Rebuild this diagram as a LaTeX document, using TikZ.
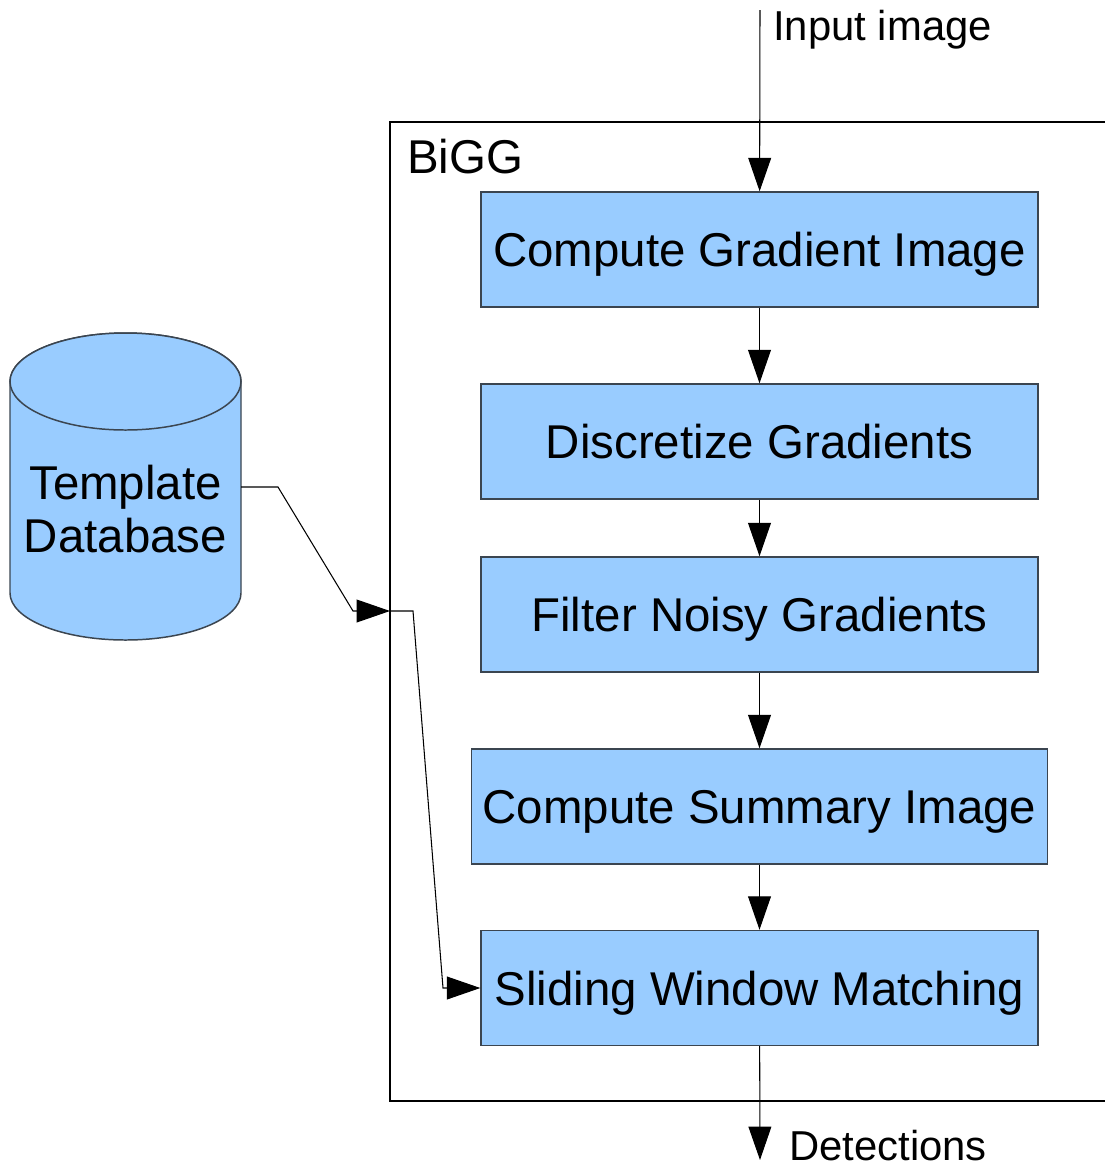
\documentclass[tikz,border=0pt]{standalone}
\usepackage{fontspec}
\setmainfont{Liberation Sans}
\usetikzlibrary{arrows.meta}

\definecolor{stagefill}{HTML}{99CCFF}
\definecolor{stageline}{HTML}{3B4550}

\tikzset{
  big/.style={font=\fontsize{27}{30}\selectfont},
  small/.style={font=\fontsize{23.8}{28}\selectfont},
  stage/.style={big, draw=stageline, line width=0.85pt, fill=stagefill,
    minimum width=11.14cm, minimum height=2.3cm, inner sep=0pt,
    text height=19.4pt, text depth=0pt},
  flow/.style={-{Triangle[length=19pt,width=13pt]}, line width=0.6pt},
}

\begin{document}
\begin{tikzpicture}[x=0.02cm,y=-0.02cm]
\useasboundingbox (0,0) rectangle (1105,1167);

% BiGG frame, open on the right
\draw[line width=0.6pt] (1105,122) -- (390,122) -- (390,1101) -- (1105,1101);
\node[big, anchor=base west, inner sep=0pt] (bigg) at (407,173) {BiGG};

% pipeline stages
\node[stage] (grad) at (759.5,249.5) {Compute Gradient Image};
\node[stage] (disc) at (759.5,441.5) {Discretize Gradients};
\node[stage] (filt) at (759.5,614.5) {Filter Noisy Gradients};
\node[stage, minimum width=11.52cm] (summ) at (759.5,806.5) {Compute Summary Image};
\node[stage] (slide) at (759.5,988) {Sliding Window Matching};

% template database cylinder
\begin{scope}[shift={(125.5,381.5)}, x=0.02cm, y=0.02cm]
  \filldraw[fill=stagefill, draw=stageline, line width=0.85pt]
    (-115.5,0) -- (-115.5,-211.5)
    arc[start angle=180, end angle=360, x radius=115.5, y radius=47]
    -- (115.5,0)
    arc[start angle=0, end angle=180, x radius=115.5, y radius=48.5] -- cycle;
  \filldraw[fill=stagefill, draw=stageline, line width=0.85pt]
    (0,0) ellipse [x radius=115.5, y radius=48.5];
\end{scope}
\node[big, align=center, inner sep=0pt] (db) at (125.5,509) {Template\\Database};

% in and out
\coordinate (input) at (760,10);
\coordinate (output) at (760,1160);
\coordinate (dbout) at (241,487);
\coordinate (biggin) at (390,611);
\node[small, anchor=base west, inner sep=0pt] (inlabel) at (773,40) {Input image};
\node[small, anchor=base west, inner sep=0pt] (outlabel) at (789,1160) {Detections};

% connectors
\draw[flow] (input) -- (grad);
\draw[flow] (grad) -- (disc);
\draw[flow] (disc) -- (filt);
\draw[flow] (filt) -- (summ);
\draw[flow] (summ) -- (slide);
\draw[flow] (slide) -- (output);
\draw[flow] (dbout) -- (278,487) -- (353,611) -- (biggin);
\draw[flow] (biggin) -- (413,611) -- (443,988) -- (slide);
\end{tikzpicture}
\end{document}
